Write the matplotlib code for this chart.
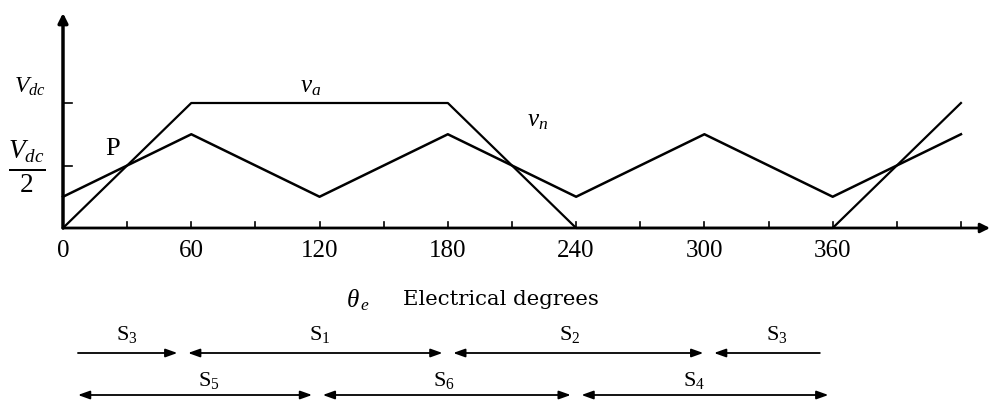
import matplotlib
matplotlib.use("Agg")
import matplotlib.pyplot as plt

plt.rcParams['font.family'] = ['Liberation Serif', 'DejaVu Serif']
plt.rcParams['mathtext.fontset'] = 'custom'
plt.rcParams['mathtext.rm'] = 'Liberation Serif'
plt.rcParams['mathtext.it'] = 'Liberation Serif:italic'

# phase voltage v_a and neutral voltage v_n, in units of Vdc
theta_va = [0, 60, 180, 240, 360, 420]
va = [0, 1, 1, 0, 0, 1]
theta_vn = [0, 60, 120, 180, 240, 300, 360, 420]
vn = [0.25, 0.75, 0.25, 0.75, 0.25, 0.75, 0.25, 0.75]

xticks = [0, 60, 120, 180, 240, 300, 360]
minor_ticks = list(range(30, 421, 30))

# switch conduction intervals (degrees)
row1_edges = [7, 56, 180, 302, 354]
row1_labels = ['S$_3$', 'S$_1$', 'S$_2$', 'S$_3$']
row1_label_x = [30, 120, 237, 334]
row2_edges = [7, 119, 240, 358]
row2_labels = ['S$_5$', 'S$_6$', 'S$_4$']
row2_label_x = [68, 178, 295]

fig = plt.figure(figsize=(9.92, 4.01), dpi=100)
ax = fig.add_axes([0, 0, 1, 1])
px = 2.138
ax.set_xlim(-63 / px, (992 - 63) / px)
ax.set_ylim(-(401 - 228) / 125, 228 / 125)
ax.axis('off')

k = 'black'
# axes with arrows
ax.annotate('', xy=((990 - 63) / px, 0), xytext=(0, 0),
            arrowprops=dict(arrowstyle='-|>', color=k, lw=2, mutation_scale=14, shrinkA=0, shrinkB=0))
ax.annotate('', xy=(0, 1.72), xytext=(0, 0),
            arrowprops=dict(arrowstyle='-|>', color=k, lw=2.5, mutation_scale=14, shrinkA=0, shrinkB=0))
for t in minor_ticks:
    ax.plot([t, t], [0, 0.05], color=k, lw=1.2)
for v in [0.5, 1.0]:
    ax.plot([0, 4], [v, v], color=k, lw=1.2)

ax.plot(theta_va, va, color=k, lw=1.6)
ax.plot(theta_vn, vn, color=k, lw=1.8)

for t in xticks:
    ax.text(t, -0.185, str(t), ha='center', va='center', fontsize=18)

ax.text(-15.5, 1.13, '$V_{dc}$', ha='center', va='center', fontsize=17)
ax.text(-16.8, 0.49, r'$\frac{V_{dc}}{2}$', ha='center', va='center', fontsize=28)
ax.text(23, 0.63, 'P', ha='center', va='center', fontsize=19)
ax.text(116, 1.13, '$v_a$', ha='center', va='center', fontsize=18)
ax.text(222, 0.86, '$v_n$', ha='center', va='center', fontsize=18)
ax.text(138, -0.575, r'$\theta_{\,e}$', ha='center', va='center', fontsize=18)
ax.text(159, -0.57, 'Electrical degrees', ha='left', va='center', fontsize=15.3,
        family='DejaVu Serif')


def draw_row(edges, labels, label_x, y, dy, open_left, open_right):
    n = len(edges) - 1
    for i in range(n):
        a = edges[i] + (0 if i == 0 else 2.5)
        b = edges[i + 1] - (0 if i == n - 1 else 2.5)
        left = not (i == 0 and open_left)
        right = not (i == n - 1 and open_right)
        style = {(True, True): '<|-|>', (True, False): '<|-',
                 (False, True): '-|>', (False, False): '-'}[(left, right)]
        ax.annotate('', xy=(b, y), xytext=(a, y),
                    arrowprops=dict(arrowstyle=style + ',head_length=0.7,head_width=0.25',
                                    color=k, lw=1.3, mutation_scale=10, shrinkA=0, shrinkB=0))
        ax.text(label_x[i], y + dy, labels[i], ha='center', va='center', fontsize=16)


draw_row(row1_edges, row1_labels, row1_label_x, -1.0, 0.15, True, True)
draw_row(row2_edges, row2_labels, row2_label_x, -1.336, 0.12, False, False)

fig.savefig('out.png', dpi=100)
